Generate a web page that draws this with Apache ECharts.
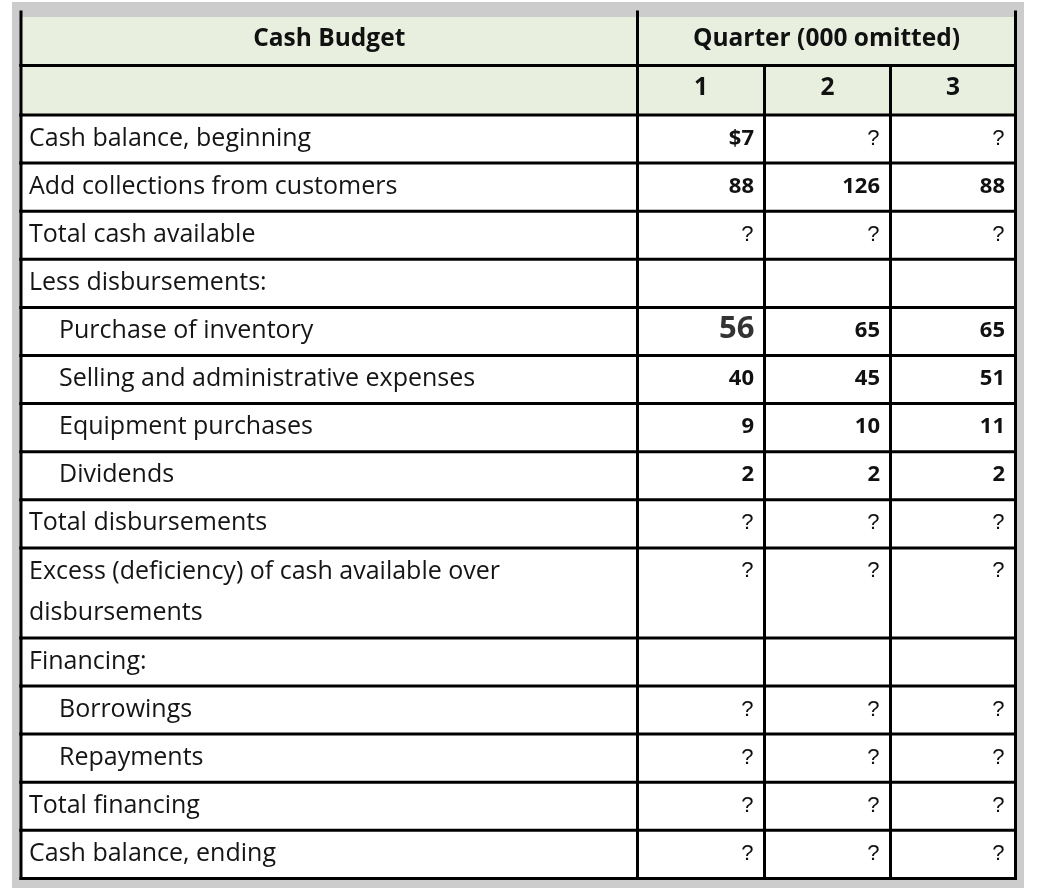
<!DOCTYPE html>
<html><head><meta charset="utf-8">
<script src="https://cdn.jsdelivr.net/npm/echarts@6/dist/echarts.min.js"></script>
<style>html,body{margin:0;padding:0;background:#fff}#c{width:1046px;height:896px}</style>
</head><body><div id="c"></div>
<script>
// ---- data ----
const headerTitle = 'Cash Budget';
const headerGroup = 'Quarter (000 omitted)';
const quarters = ['1', '2', '3'];
const rowLabels = [
  'Cash balance, beginning',
  'Add collections from customers',
  'Total cash available',
  'Less disbursements:',
  'Purchase of inventory',
  'Selling and administrative expenses',
  'Equipment purchases',
  'Dividends',
  'Total disbursements',
  'Excess (deficiency) of cash available over\ndisbursements',
  'Financing:',
  'Borrowings',
  'Repayments',
  'Total financing',
  'Cash balance, ending'
];
const q1 = ['$7', '88', '?', '', '56', '40', '9', '2', '?', '?', '', '?', '?', '?', '?'];
const q2 = ['?', '126', '?', '', '65', '45', '10', '2', '?', '?', '', '?', '?', '?', '?'];
const q3 = ['?', '88', '?', '', '65', '51', '11', '2', '?', '?', '', '?', '?', '?', '?'];
const indentedRows = [4, 5, 6, 7, 11, 12];

// ---- layout ----
const colEdges = [0, 616.5, 743.5, 869.5, 994.5];
const headerHeights = [48.5, 49.5];
const rowH = 48.1, tallRowH = 90;
const rowHeights = headerHeights.concat(rowLabels.map(l => l.indexOf('\n') >= 0 ? tallRowH : rowH));
const rowEdges = [0];
rowHeights.forEach(h => rowEdges.push(rowEdges[rowEdges.length - 1] + h));
const totalH = rowEdges[rowEdges.length - 1];

const FONT = '"Open Sans", "Lato", sans-serif';
const cells = [];
cells.push({ c0: 0, c1: 1, r: 0, text: headerTitle, kind: 'head' });
cells.push({ c0: 1, c1: 4, r: 0, text: headerGroup, kind: 'head' });
cells.push({ c0: 0, c1: 1, r: 1, text: '', kind: 'head' });
quarters.forEach((q, i) => cells.push({ c0: i + 1, c1: i + 2, r: 1, text: q, kind: 'head' }));
rowLabels.forEach((lab, i) => {
  cells.push({ c0: 0, c1: 1, r: i + 2, text: lab, kind: 'label', indent: indentedRows.indexOf(i) >= 0 });
  [q1, q2, q3].forEach((arr, j) => cells.push({ c0: j + 1, c1: j + 2, r: i + 2, text: arr[i], kind: 'num' }));
});

function renderItem(params, api) {
  const cell = cells[params.dataIndex];
  const p0 = api.coord([colEdges[cell.c0], rowEdges[cell.r]]);
  const p1 = api.coord([colEdges[cell.c1], rowEdges[cell.r + 1]]);
  const x0 = p0[0], y0 = p0[1], x1 = p1[0], y1 = p1[1];
  const head = cell.kind === 'head';
  const children = [];
  children.push({ type: 'rect', shape: { x: x0, y: y0, width: x1 - x0, height: y1 - y0 },
    style: { fill: head ? '#e8efdf' : '#ffffff' }, z2: 0 });
  const ls = { stroke: '#000', lineWidth: 3, lineCap: 'square' };
  const topExt = cell.r === 0 ? 5 : 0;
  children.push({ type: 'line', shape: { x1: x0, y1: y1, x2: x1, y2: y1 }, style: ls, z2: 10 });
  children.push({ type: 'line', shape: { x1: x1, y1: y0 - topExt, x2: x1, y2: y1 }, style: ls, z2: 10 });
  if (cell.c0 === 0) children.push({ type: 'line', shape: { x1: x0, y1: y0 - topExt, x2: x0, y2: y1 }, style: ls, z2: 10 });
  if (cell.text) {
    let st;
    if (head) {
      st = { text: cell.text, x: (x0 + x1) / 2, y: (y0 + y1) / 2 - 2, align: 'center', verticalAlign: 'middle',
        font: 'bold 24.5px ' + FONT, fill: '#111' };
    } else if (cell.kind === 'label') {
      st = { text: cell.text, x: x0 + (cell.indent ? 38 : 8), y: y0 + 3, align: 'left', verticalAlign: 'top',
        font: '25px ' + FONT, fill: '#151515', lineHeight: 41 };
    } else if (cell.text === '?') {
      st = { text: cell.text, x: x1 - 11, y: y0 + 23.5, align: 'right', verticalAlign: 'middle',
        font: '22px "Liberation Sans", Arial, sans-serif', fill: '#111' };
    } else if (cell.text === '56') {
      st = { text: cell.text, x: x1 - 10, y: y0 + 21.5, align: 'right', verticalAlign: 'middle',
        font: 'bold 31px ' + FONT, fill: '#333' };
    } else {
      st = { text: cell.text, x: x1 - 10.5, y: y0 + 23.5, align: 'right', verticalAlign: 'middle',
        font: 'bold 22px ' + FONT, fill: '#111' };
    }
    st.legacy = false;
    children.push({ type: 'text', style: st, z2: 20 });
  }
  return { type: 'group', children: children };
}

const chart = echarts.init(document.getElementById('c'), null, { renderer: 'canvas' });
chart.setOption({
  backgroundColor: '#ffffff',
  animation: false,
  graphic: [{ type: 'rect', left: 12, top: 2, shape: { width: 1012, height: 886 }, style: { fill: '#cccccc' }, z: -10 }],
  grid: { left: 21, right: 30.5, top: 17, bottom: 896 - 17 - totalH, containLabel: false },
  xAxis: { type: 'value', min: 0, max: colEdges[colEdges.length - 1], show: false },
  yAxis: { type: 'value', min: 0, max: totalH, inverse: true, show: false },
  series: [{ type: 'custom', renderItem: renderItem, data: cells.map((c, i) => [i]), silent: true, clip: false }]
});
</script></body></html>
